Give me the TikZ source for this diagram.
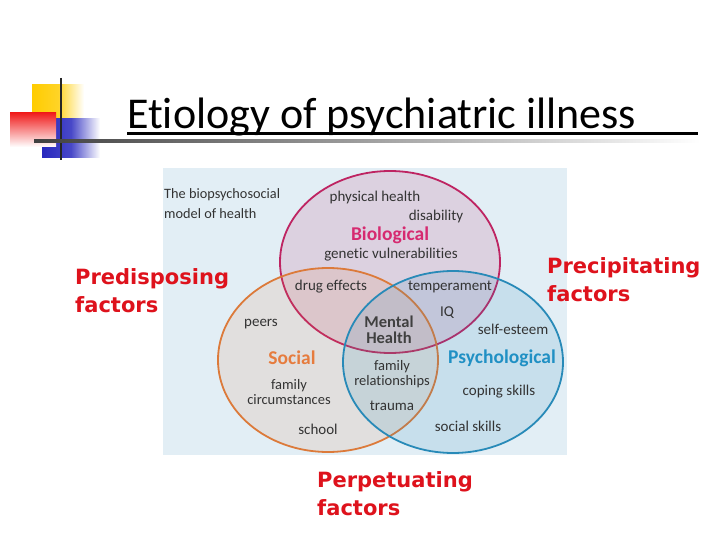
\documentclass[tikz,border=0pt]{standalone}
\usepackage{fontspec}
\setmainfont{Carlito}[Ligatures=NoCommon]
\newfontfamily\factorfont{DejaVu Sans}
\usetikzlibrary{positioning}

\definecolor{bioline}{RGB}{190,36,98}
\definecolor{biotext}{RGB}{214,42,112}
\definecolor{socline}{RGB}{220,122,58}
\definecolor{soctext}{RGB}{230,124,62}
\definecolor{psyline}{RGB}{40,138,184}
\definecolor{psytext}{RGB}{32,144,196}
\definecolor{panel}{RGB}{226,238,245}
\definecolor{factorred}{RGB}{222,18,28}
\definecolor{logoyellow}{RGB}{255,204,0}
\definecolor{logored}{RGB}{240,30,30}
\definecolor{logoblue}{RGB}{40,40,190}

\begin{document}
\begin{tikzpicture}[
    x=1pt, y=-1pt,
    lbl/.style={font=\fontsize{15}{16}\selectfont, text=black!80, align=center, inner sep=0pt},
    head/.style={font=\fontsize{19.5}{20}\selectfont\bfseries, inner sep=0pt},
    factor/.style={font=\factorfont\fontsize{21}{28}\selectfont\bfseries, text=factorred, align=left, inner sep=0pt, anchor=north west}
]
\useasboundingbox (0,0) rectangle (720,540);
\fill[white] (0,0) rectangle (720,540);

% logo squares
\shade[left color=logoyellow, right color=white, middle color=logoyellow!85] (32,85) rectangle (84,119);
\shade[left color=logoblue, right color=white, middle color=logoblue!85] (42,119) rectangle (100,158);
\shade[shading angle=135, top color=logored, bottom color=white] (10,113) rectangle (56,147);
\draw[line width=2pt, black!85] (61,78) -- (61,160);
\shade[left color=black!75, right color=white] (34,140) rectangle (700,142.5);

% title
\node[anchor=base west, inner sep=0pt, font=\fontsize{44}{44}\selectfont] (title) at (127,129) {Etiology of psychiatric illness};
\coordinate (ulend) at (698,133.5);
\draw[line width=3pt] (title.base west |- ulend) -- (ulend);

% venn panel
\fill[panel] (163,168) rectangle (567,455);
\begin{scope}[line width=1.8pt]
  \filldraw[draw=bioline, fill=bioline, fill opacity=0.14] (390,262) ellipse [x radius=110, y radius=91];
  \filldraw[draw=socline, fill=socline, fill opacity=0.12] (328,360) ellipse [x radius=110, y radius=92];
  \filldraw[draw=psyline, fill=psyline, fill opacity=0.14] (453,362) ellipse [x radius=110, y radius=91];
\end{scope}

% venn texts
\node[lbl, anchor=west, align=left, font=\fontsize{14.3}{20}\selectfont] (model) at (164,204) {The biopsychosocial\\model of health};
\node[lbl] (phys) at (375,198) {physical health};
\node[lbl] (disab) at (436,217) {disability};
\node[head, text=biotext] (bio) at (390,235) {Biological};
\node[lbl] (genet) at (391,255) {genetic vulnerabilities};
\node[lbl] (drug) at (331,287) {drug effects};
\node[lbl] (temper) at (450,287) {temperament};
\node[lbl] (iq) at (447,313) {IQ};
\node[head, text=black!75, align=center, font=\fontsize{16.5}{15.5}\selectfont\bfseries] (mental) at (389,330) {Mental\\Health};
\node[lbl] (peers) at (261,324) {peers};
\node[lbl] (esteem) at (513,329) {self-esteem};
\node[head, text=soctext] (social) at (292,358) {Social};
\node[head, text=psytext] (psych) at (502,358) {Psychological};
\node[lbl, font=\fontsize{14.5}{14.5}\selectfont] (famrel) at (392,374) {family\\relationships};
\node[lbl, font=\fontsize{14.5}{14.5}\selectfont] (famcirc) at (289,392) {family\\circumstances};
\node[lbl] (coping) at (499,392) {coping skills};
\node[lbl] (trauma) at (392,406) {trauma};
\node[lbl] (school) at (318,429) {school};
\node[lbl] (skills) at (468,426) {social skills};

% factors
\node[factor] (predis) at (75,268) {Predisposing\\factors};
\node[factor] (precip) at (547,257) {Precipitating\\factors};
\node[factor] (perpet) at (317,471) {Perpetuating\\factors};
\end{tikzpicture}
\end{document}
